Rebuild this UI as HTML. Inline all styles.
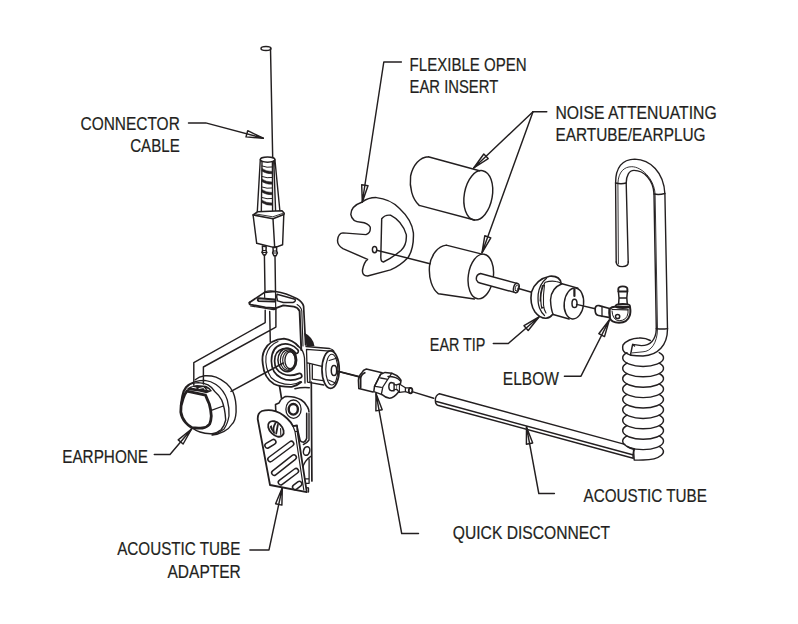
<!DOCTYPE html>
<html><head><meta charset="utf-8"><style>
html,body{margin:0;padding:0;background:#fff;width:798px;height:624px;overflow:hidden}
svg{display:block}
text{font-family:"Liberation Sans",sans-serif;font-size:17.7px;fill:#231f20;stroke:#231f20;stroke-width:0.2}
.s{fill:none;stroke:#231f20;stroke-width:1.45;stroke-linejoin:round;stroke-linecap:round}
.t{fill:none;stroke:#231f20;stroke-width:2.4;stroke-linejoin:round;stroke-linecap:round}
.w{fill:#fff;stroke:#231f20;stroke-width:1.45;stroke-linejoin:round;stroke-linecap:round}
</style></head><body>
<svg width="798" height="624" viewBox="0 0 798 624">
<text x="80.5" y="130.3" textLength="99.3" lengthAdjust="spacingAndGlyphs" text-anchor="start">CONNECTOR</text>
<text x="130.2" y="152.4" textLength="49.6" lengthAdjust="spacingAndGlyphs" text-anchor="start">CABLE</text>
<text x="409.6" y="70.7" textLength="117.1" lengthAdjust="spacingAndGlyphs" text-anchor="start">FLEXIBLE OPEN</text>
<text x="409.6" y="93.0" textLength="88.6" lengthAdjust="spacingAndGlyphs" text-anchor="start">EAR INSERT</text>
<text x="555.5" y="119.3" textLength="161.2" lengthAdjust="spacingAndGlyphs" text-anchor="start">NOISE ATTENUATING</text>
<text x="555.5" y="141.4" textLength="150.0" lengthAdjust="spacingAndGlyphs" text-anchor="start">EARTUBE/EARPLUG</text>
<text x="429.8" y="350.7" textLength="55.6" lengthAdjust="spacingAndGlyphs" text-anchor="start">EAR TIP</text>
<text x="502.8" y="384.8" textLength="56.1" lengthAdjust="spacingAndGlyphs" text-anchor="start">ELBOW</text>
<text x="62.2" y="462.9" textLength="85.9" lengthAdjust="spacingAndGlyphs" text-anchor="start">EARPHONE</text>
<text x="117.2" y="555.3" textLength="123.2" lengthAdjust="spacingAndGlyphs" text-anchor="start">ACOUSTIC TUBE</text>
<text x="167.5" y="577.8" textLength="73.3" lengthAdjust="spacingAndGlyphs" text-anchor="start">ADAPTER</text>
<text x="452.8" y="538.6" textLength="157.2" lengthAdjust="spacingAndGlyphs" text-anchor="start">QUICK DISCONNECT</text>
<text x="583.6" y="501.7" textLength="123.3" lengthAdjust="spacingAndGlyphs" text-anchor="start">ACOUSTIC TUBE</text>
<path d="M188.5,122.9 L205.7,122.9 L263.3,138.2" class="s"/>
<path d="M246.0,136.9 L263.3,138.2 L247.7,130.7 Z" class="s"/>
<path d="M255.5,137.6 L263.3,138.2 L256.3,134.8 Z" fill="#231f20"/>
<path d="M401.4,62.0 L383.8,62.0 L362.3,202.0" class="s"/>
<path d="M361.7,184.7 L362.3,202.0 L368.0,185.7 Z" class="s"/>
<path d="M362.0,194.2 L362.3,202.0 L364.9,194.7 Z" fill="#231f20"/>
<path d="M546.8,111.7 L533,111.7" class="s"/>
<path d="M533.0,111.7 L473.7,168.0" class="s"/>
<path d="M483.8,154.0 L473.7,168.0 L488.2,158.6 Z" class="s"/>
<path d="M478.3,161.7 L473.7,168.0 L480.2,163.8 Z" fill="#231f20"/>
<path d="M533.0,111.7 L482.0,252.8" class="s"/>
<path d="M484.8,235.7 L482.0,252.8 L490.8,237.9 Z" class="s"/>
<path d="M483.2,245.1 L482.0,252.8 L486.0,246.1 Z" fill="#231f20"/>
<path d="M493.3,343.5 L508.3,343.5 L539.0,317.0" class="s"/>
<path d="M528.2,330.5 L539.0,317.0 L524.0,325.7 Z" class="s"/>
<path d="M534.1,323.1 L539.0,317.0 L532.3,320.9 Z" fill="#231f20"/>
<path d="M564.4,376.2 L581.0,376.2 L609.3,320.0" class="s"/>
<path d="M604.5,336.6 L609.3,320.0 L598.8,333.7 Z" class="s"/>
<path d="M607.1,327.5 L609.3,320.0 L604.6,326.2 Z" fill="#231f20"/>
<path d="M154.3,454.5 L170.0,454.5 L191.6,429.0" class="s"/>
<path d="M183.1,444.0 L191.6,429.0 L178.2,439.9 Z" class="s"/>
<path d="M187.8,435.8 L191.6,429.0 L185.6,433.9 Z" fill="#231f20"/>
<path d="M249.9,549.9 L269.0,549.9 L282.3,487.8" class="s"/>
<path d="M281.9,505.1 L282.3,487.8 L275.6,503.8 Z" class="s"/>
<path d="M282.1,495.6 L282.3,487.8 L279.3,495.0 Z" fill="#231f20"/>
<path d="M418.5,533.5 L401.7,533.5 L376.0,393.6" class="s"/>
<path d="M382.2,409.7 L376.0,393.6 L375.9,410.9 Z" class="s"/>
<path d="M378.8,400.9 L376.0,393.6 L376.0,401.4 Z" fill="#231f20"/>
<path d="M554.4,493.5 L538.8,493.5 L526.5,426.9" class="s"/>
<path d="M532.7,443.0 L526.5,426.9 L526.4,444.2 Z" class="s"/>
<path d="M529.3,434.2 L526.5,426.9 L526.5,434.7 Z" fill="#231f20"/>

<!-- ===== connector cable ===== -->
<ellipse cx="266" cy="48.5" rx="5" ry="2" class="s"/>
<path d="M270.5,48.5 L272.7,157.5" class="s"/>
<ellipse cx="267.6" cy="159.6" rx="7.3" ry="2.6" class="s"/>
<path d="M260.3,159.6 L257.2,213.5 M262,161.5 L261.3,213.5 M274.9,159.6 L280.1,213 M272.4,161.8 L272.6,214 M273.8,161.5 L275.7,214" class="s" style="stroke-width:1.4"/>
<path d="M262,168.5 Q266,171.5 272.5,171.5 L272.5,173.8 Q266,174 261.9,171 Z M261.9,179 Q266,182 272.5,182 L272.5,184.3 Q266,184.5 261.8,181.5 Z M261.8,189.5 Q266,192.5 272.5,192.5 L272.5,194.8 Q266,195 261.7,192 Z M261.7,200 Q266,203 272.5,203 L272.5,205.3 Q266,205.5 261.6,202.5 Z" fill="#231f20" stroke="#231f20" stroke-width="0.5"/>
<path d="M262,166 Q267,168 272.4,167 M261.9,176.5 Q267,178.5 272.5,177.5 M261.8,187 Q267,189 272.5,188 M261.7,197.5 Q267,199.5 272.5,198.5" class="s" style="stroke-width:1"/>
<path d="M253.1,215 L257.5,211.8 L282,210.8 L284.2,213.2 L283.8,214.5 L273,218.7 Z" class="w" style="stroke-width:1.6"/>
<path d="M256,214 L272.8,216.8 L282.5,213.5" class="s" style="stroke-width:0.9"/>
<path d="M253.1,215 L256.7,243.3 L274.7,247.6 L282.6,244.7 L283.8,214.5 M273,218.7 L274.7,247.6" class="s"/>
<path d="M262.4,246 L266.2,246.8 L266,250.5 L266.8,252.5 L265.4,255 L263.5,255 L262,252.3 L262.6,250.5 Z" class="s" style="stroke-width:1.5"/>
<path d="M262.6,250.5 L266,250.5 M262.2,252.4 L266.6,252.5" class="s" style="stroke-width:1.2"/>
<path d="M273,247.2 L276.6,246.8 L276.6,251 L277.4,253 L276,255.8 L274,255.8 L272.6,253 L273.2,251 Z" class="s" style="stroke-width:1.5"/>
<path d="M273.2,251 L276.6,251 M272.8,253 L277.2,253" class="s" style="stroke-width:1.2"/>
<path d="M264.4,255 L265,291.8 M275,255.8 L275.5,291.8" class="s"/>

<!-- ===== bracket flange ===== -->
<path d="M249.5,302.5 L264.5,292.4 L275.5,291.5 Q286,293 297.1,298.8 Q302.5,302 303.6,306.2 L305.6,345" class="s" style="stroke-width:1.7"/>
<path d="M249.5,302.5 Q249,304.2 250.8,304.6 L265.4,307.4 L275.9,308.2 L283.3,305.4 L293.9,306.6 Q298,307.5 299.6,311 L301.3,350" class="s" style="stroke-width:1.9"/>
<path d="M264.5,292.4 L264.7,297.5 M275.5,291.5 L275.7,308 M264.5,292 Q270,289.8 275.5,291.5" class="s" style="stroke-width:1.2"/>
<path d="M250.5,306 L273.5,309.6 L276.5,309.2 M297.1,304.5 Q301.2,307 301.8,311 L303,346" class="s" style="stroke-width:1.1"/>
<path d="M258.6,298.2 L274.8,299.5 Q276.3,300.4 274.8,301.6 L258.6,301.1 Q256.8,299.7 258.6,298.2 Z" class="s" style="stroke-width:1.9"/>
<path d="M277,294.3 L295,299.2 Q296.2,301.6 293,302.5 L283.3,302.5 L277.6,300.9 Q276,297 277,294.3 Z" class="s" style="stroke-width:1.5"/>
<path d="M265.2,310.3 L265.2,322.6 L193.8,362.7 L193.8,385 M275.9,310.3 L275.9,327.1 L203.4,367 L203.4,384 M269.7,311.4 L270.3,342" class="s"/>
<!-- ===== ring adapter ===== -->
<path d="M231,391.4 L283.3,363" class="s"/>
<path d="M298.4,346.4 Q293,340 284,338.7 Q270,339.5 264.5,350 Q261.5,356 262.8,364 Q264,378 274,384 Q280,387 291.7,386.8 Q297.5,385.5 301.3,382" class="s" style="stroke-width:1.8"/>
<path d="M278,341.5 Q268.5,345 266,356 Q264.8,368 271,377.5 Q278,384.5 291,384.5 Q297,384 300.5,381.5" class="s" style="stroke-width:1.1"/>
<path d="M297.5,349.5 C290,340.5 271.5,341 271.4,361 C271.5,378 288,383.5 300.3,378 A2.3 2.3 0 0 0 298.5,373.6 C288,378 274.6,374 274.6,361 C274.6,347 289,345 296.2,353.6 A2.3 2.3 0 0 0 297.5,349.5 Z" class="s" style="stroke-width:1.7"/>
<ellipse cx="287.3" cy="360" rx="9.4" ry="11.7" class="s" style="stroke-width:1.5"/>
<ellipse cx="288.2" cy="360.2" rx="7.9" ry="10.3" class="s" style="stroke-width:1.1"/>
<ellipse cx="289" cy="360.3" rx="6.3" ry="9.2" class="s" style="stroke-width:1.1"/>
<ellipse cx="290.1" cy="360.3" rx="5.2" ry="8.4" class="s" style="stroke-width:1.3"/>
<path d="M298.4,346.4 Q303.5,350 304.5,358 L305,383" class="s" style="stroke-width:1.3"/>
<!-- hex connector -->
<path d="M304,332.5 Q313,337 314.5,346 L306.5,346.8 Q305.8,339.5 304,332.5 Z" fill="#231f20"/>
<path d="M306,346.5 L329.6,348.5 Q333,349.5 334,351.3 M306.5,349.4 L333.5,351.3 M306.5,349.4 L307.5,382.1 L323.8,385 M307.5,362.9 L322.9,366.7 M312.3,379.2 L322.9,380.7 M312.3,364.8 L312.3,379.2 M309.5,364 L310,382" class="s" style="stroke-width:1.3"/>
<ellipse cx="330.6" cy="369.6" rx="8.65" ry="18.75" class="w" style="stroke-width:1.7"/>
<ellipse cx="331.8" cy="369.6" rx="6" ry="15.4" class="s" style="stroke-width:1.1"/>
<path d="M329.1,360.5 L337.3,358 M328.5,380 L336.5,383.5" class="s" style="stroke-width:1.1"/>
<ellipse cx="334" cy="370.6" rx="2.7" ry="5" class="s" style="stroke-width:1.5"/>
<path d="M336.6,371 L359.5,377" class="s"/>

<!-- ===== earphone ===== -->
<path d="M195.2,379.7 Q199,376.5 204.8,375.8 Q211,375.5 216,377.1 Q228,382 233,392 Q236.5,400 236.1,412 Q235.5,421 232.1,424 Q229,429 224.1,431.3 Q218,434.5 212,435" class="s" style="stroke-width:1.4"/>
<path d="M185.6,387.4 Q189.5,383 195.2,381.6 Q200,380.3 204.8,380.3 Q211,381 216,384.5 Q224,390 227.3,400 Q229.5,408 229,416 Q227.5,424 224.1,428.9 Q219,433 212.9,434.5" class="s" style="stroke-width:1.3"/>
<path d="M188.8,384.8 Q193,382.6 198.4,382.6 Q204,383 208,384.8 Q212,387 214.5,391.2 Q219,395 221.7,400 Q225,408 225.7,420 Q224.5,426 221,429.7 Q217,433 212.1,433.7 Q205.5,434 200,432 Q195.5,430.5 192,427.7" class="s" style="stroke-width:1.4"/>
<path d="M211.3,410.4 L223.3,406" class="s" style="stroke-width:1.3"/>
<path d="M186.9,391.2 L205.5,395.1 Q207.5,400 209.3,404 Q210.8,409 211.3,416 Q211,421 209.7,424 Q207,427.5 202.5,428 Q197,428.5 192,427.7 Q188,425.5 185.6,422.5 Q181.5,417.5 180.8,412 Q180.5,405 183,398.9 Q184.5,394 186.9,391.2 Z" class="t" style="stroke-width:2.8"/>
<path d="M183.7,391.2 Q185.5,387 188.8,384.8 M181.1,404 Q182,396 183.7,391.2" class="s" style="stroke-width:2.2"/>
<path d="M186.3,389.5 Q190,385.5 197,385 L206,385.8 Q210,387.5 212,391 L206.5,393.2 L199,391.5 L191,390.5 Z" fill="#231f20"/>
<path d="M192,387.2 L196,388 M199,388.5 L203.5,387.5 L205,389.5 M207,389 L209,390" class="s" style="stroke:#fff;stroke-width:1"/>
<!-- ===== clip body ===== -->
<path d="M279.5,385.8 L281.5,398.3 M311.3,382 L311.9,481" class="s" style="stroke-width:1.7"/>
<path d="M294.9,388.7 Q302,387 309.3,387.7" class="s"/>
<path d="M275.8,411.5 L275.5,404.5 L279,403 Q281,398.5 285,396.6 Q294,396 301,399.8 Q305.5,402.5 307.5,407 Q309,409.5 309,412" class="s" style="stroke-width:1.6"/>
<ellipse cx="293.5" cy="409.2" rx="7.6" ry="9.2" class="s" style="stroke-width:1.3"/>
<ellipse cx="293.3" cy="409.3" rx="4.6" ry="5.3" class="s" style="stroke-width:2.4"/>
<path d="M306.7,413.4 L306.7,438.3 Q305.5,442 303.4,442.3 Q300.8,442 300.2,440.7 L297,427" class="s" style="stroke-width:1.6"/>
<path d="M309,413.4 L309,440 Q307,443 303.4,444.5" class="s" style="stroke-width:1.4"/>
<ellipse cx="306.6" cy="451" rx="3.1" ry="4.4" transform="rotate(15 306.6 451)" class="s" style="stroke-width:1.5"/>
<path d="M310.8,456.4 Q305,460 302.5,468 Q301.5,476 304,481 M309.1,459 L309.1,480 M304.6,478.8 L309.1,478.8 L309.1,483.3 L304.8,483.3 M305.7,487.7 L308.5,488 L308.5,492" class="s" style="stroke-width:1.3"/>
<!-- clip plate -->
<path d="M257.7,419 Q257.5,413 262,411 Q266,409.8 272,410.3 Q280,411.5 287.2,418.5 Q291,422 293,426.2 L297,425.5 L297.5,431.5 L306.8,492.2 L270,485 Z" class="w" style="stroke-width:1.8"/>
<path d="M293,426.2 L295,431.5 L303.8,490 M295,431.5 L297.5,431.5" class="s" style="stroke-width:1.2"/>
<ellipse cx="275.9" cy="428.9" rx="9.3" ry="6" transform="rotate(45 275.9 428.9)" class="s" style="stroke-width:1.8"/>
<path d="M275.4,423.2 Q272.3,428 274,432.5 M277.8,425 L276.2,433.5" class="s" style="stroke-width:1.8"/>
<path d="M280.6,428.5 L280.8,435" class="s" style="stroke-width:1.1"/>
<path d="M269.8,426.5 Q271,431.5 276,434.8 L274,432 Q272.5,429.5 271.5,425 Z" fill="#231f20"/>
<g class="s" style="stroke-width:1.5">
<rect x="-6" y="-2.5" width="12" height="5" rx="2.5" transform="translate(270.4 443.8) rotate(-31)"/>
<rect x="-15.5" y="-2.5" width="31" height="5" rx="2.5" transform="translate(280.8 451.5) rotate(-36.6)"/>
<rect x="-15" y="-2.5" width="30" height="5" rx="2.5" transform="translate(284 465.1) rotate(-38.3)"/>
<rect x="-12" y="-2.5" width="24" height="5" rx="2.5" transform="translate(288.4 476.7) rotate(-36.9)"/>
<rect x="-5.2" y="-2.5" width="10.4" height="5" rx="2.5" transform="translate(297.2 485.5) rotate(-38)"/>
</g>

<!-- ===== ear insert ===== -->
<path d="M362.3,202 Q368,197.5 376.4,197.6 Q390,199 399.3,208.2 Q412,220 413.4,232.9 Q414,248 408.1,257.5 Q400,266 390.5,269.9 L367.6,276 Q362,276 362.5,270 Q364,262 367.6,259.3 L342.9,248.7 Q337,245 337.6,239.9 Q338.5,233 342.9,232.9 L366,234.6 Q371,233 370.2,227 Q368,223 361,222.3 Q352,222 350.8,214.4 Q351,206 362.3,202 Z" class="s"/>
<path d="M381.7,218.8 Q385,214.5 390.5,215.2 Q402,221 406.3,234.6 Q407,245 401,250.5 Q392,258 383.4,262 Q381,262 380.8,257.5 Z" class="s"/>
<ellipse cx="374.6" cy="249.6" rx="2.2" ry="3.2" class="s"/>
<path d="M376.6,250.2 L430,263.7" class="s"/>

<!-- ===== cylinders ===== -->
<path d="M428.2,156.7 L479.5,170.8 M419.2,205.4 L474.4,220 M428.2,156.7 C420,157 413,165 410.6,176 C409.3,187 412,199 419.2,205.4" class="s"/>
<ellipse cx="478.3" cy="195.3" rx="14" ry="25" transform="rotate(10 478.3 195.3)" class="s"/>
<path d="M446.2,245.1 L482,254.1 M438.5,293.8 L474.4,299 M446.2,245.1 C438,246 431,255 429.5,266 C428.5,278 432,289 438.5,293.8" class="s"/>
<ellipse cx="480.8" cy="276.5" rx="12.5" ry="22.5" transform="rotate(8 480.8 276.5)" class="s"/>
<path d="M517,283.4 L480.5,273.5 Q475.5,275 476.5,280 Q477.5,282.5 480,283 L515.4,292.6 Z" class="w"/>
<ellipse cx="516.3" cy="288" rx="2.7" ry="4.8" transform="rotate(15 516.3 288)" class="w"/>
<ellipse cx="516.8" cy="288" rx="1.5" ry="3.2" transform="rotate(15 516.8 288)" class="s" style="stroke-width:0.9"/>

<!-- ===== ear tip ===== -->
<path d="M518.5,288.5 L530.7,292" class="s"/>
<path d="M561.2,283.5 Q560,275.5 549.7,276.2 Q536,279 531.5,292 Q529.5,304 535,312 Q540,318.5 546,318.3 Q550,318 552.5,314.5" class="s" style="stroke-width:1.6"/>
<path d="M546.5,278.2 Q539.5,284 538.2,294 Q537.5,303 539.5,308 Q541.5,313 544.5,315.5" class="s" style="stroke-width:1.3"/>
<path d="M545.3,282.3 Q551,280.5 556,281.5 Q559.5,282 561.2,283.5" class="s" style="stroke-width:1.2"/>
<path d="M544.8,282.8 Q541,290 540.8,298 Q540.8,305 542,308.5 M542.5,285.5 Q540,293 540.2,301" class="s" style="stroke-width:1.2"/>
<path d="M544.5,285 Q543,295 543.5,305 Q544,310 546,313 M544,308 L541.5,307" class="s" style="stroke-width:1.1"/>
<path d="M562,283.7 Q551,288 550.5,300 Q551,310 553.2,314.5" class="s"/>
<path d="M562,283.7 L577.9,288.1 M553.2,314.5 L569.1,319" class="s"/>
<ellipse cx="573.9" cy="303.5" rx="9.7" ry="15.5" transform="rotate(6 573.9 303.5)" class="w"/>
<path d="M574.4,289.5 L574.4,296" class="s" style="stroke-width:2.2"/>
<ellipse cx="574.5" cy="303.4" rx="2.5" ry="4.1" class="s" style="stroke-width:1.5"/>
<path d="M576.6,304.4 L595.2,308.8" class="s"/>

<!-- ===== elbow ===== -->
<path d="M595.2,308 Q596,305 599,305.6 L609.5,308.5 L610,317.7 L598.5,315.5 Q595.5,315 595.2,311 Z" class="s" style="stroke-width:1.7"/>
<path d="M602,306.5 L602,316.5" class="s" style="stroke-width:1.3"/>
<path d="M618.3,289.5 Q618,286.4 622.8,286.4 Q627.7,286.4 627.4,289.5 L627.4,291.5 L618.4,291.5 Z" class="s" style="stroke-width:1.9"/>
<path d="M618.4,291.5 L619,298 L626.8,298 L627.4,291.5 M619,298 L618.6,304.5 M626.8,298 L627.3,304.5" class="s" style="stroke-width:1.5"/>
<path d="M615.6,306 Q615.6,304 622.8,304 Q630,304 630,306 Q630,308 622.8,308 Q615.6,308 615.6,306 Z" class="s" style="stroke-width:1.8"/>
<path d="M609.5,309 Q611.5,306.8 616,306.5 L630,307 Q631,313 629.5,316 Q627.5,322.5 619,322.8 Q611.5,322.5 609.8,318 Q608.8,313 609.5,309 Z" class="s" style="stroke-width:2"/>
<path d="M612,311 Q612.5,320 619,320.8 Q627,320.5 628,313 L628,309.5" class="s" style="stroke-width:1"/>
<path d="M612,309.5 L628,309.8" class="s" style="stroke-width:1.2"/>
<circle cx="617.6" cy="316.5" r="2.1" class="s" style="stroke-width:1.5"/>
<!-- ===== J tube ===== -->
<path d="M616.2,262 L615.6,183 C615.5,168 622,159.1 634.8,159.1 C650,159.5 664,172 664.9,194 L667.5,329 C667.5,345 658,355.5 643,356 Q636,356 631,355.3" class="s" style="stroke-width:1.4"/>
<path d="M628.2,262 L626.2,183 C626.2,176 629,170.4 634,170.4 C644,170.4 653.5,180 654,194 L656.3,329 C656,340 650,345.6 641.4,345.6 L632.6,344.4" class="s" style="stroke-width:1.4"/>
<path d="M616.2,262 Q616.4,266.5 622.3,266.6 Q628.6,266.5 628.2,262 M615.6,183 Q621,184.5 626.2,183 M654,194 Q659,195 664.9,193.5 M656.3,328.6 Q662,329.6 667.5,328.6" class="s"/>
<path d="M618.4,264 L617.9,183 C618.5,172 624,166.7 631.8,166.7 C641,166.7 654,178 655.1,194 L657.5,329 C657.3,343 651,351.5 643,351.8 L632.2,352.9" class="s" style="stroke-width:0.9"/>
<path d="M632.6,344.4 L630.6,354.5 M632.6,344.4 L634.5,346" class="s"/>
<path d="M650.3,340.5 Q645,337.5 639,338 Q628,338.5 623,345 Q621.5,350 625.4,352.9 L631,355.3" class="s"/>
<path d="M627.0,352.7 A20.4 8.5 0 1 0 659.2,352.7" class="s"/>
<path d="M627.0,363.1 A20.4 8.5 0 1 0 659.2,363.1" class="s"/>
<path d="M627.0,373.5 A20.4 8.5 0 1 0 659.2,373.5" class="s"/>
<path d="M627.0,383.9 A20.4 8.5 0 1 0 659.2,383.9" class="s"/>
<path d="M627.0,394.3 A20.4 8.5 0 1 0 659.2,394.3" class="s"/>
<path d="M627.0,404.7 A20.4 8.5 0 1 0 659.2,404.7" class="s"/>
<path d="M627.0,415.1 A20.4 8.5 0 1 0 659.2,415.1" class="s"/>
<path d="M627.0,425.5 A20.4 8.5 0 1 0 659.2,425.5" class="s"/>
<path d="M627.0,435.9 A20.4 8.5 0 1 0 659.2,435.9" class="s"/>
<path d="M633.5,449.2 L634.2,460.0 Q638,460.3 643.1,460.0 A20.4 8.5 0 0 0 659.2,446.3" class="s"/>
<path d="M627.0,446.3 A20.4 8.5 0 0 0 633.5,449.2" class="s"/>
<!-- straight acoustic tube -->
<path d="M439.4,393.7 L624.9,444.4 M437.5,405.2 L633.2,458.2 M439.4,393.7 Q435.3,395.5 435.3,400.5 Q435.5,404.5 437.5,405.2 M435.6,401.3 L632.6,454.7 M634.5,449.2 Q632.5,453 633.2,458.2" class="s" style="stroke-width:1.4"/>

<!-- ===== quick disconnect ===== -->
<path d="M340,371.8 L360,376.8" class="s"/>
<path d="M366.3,369 L382.1,372.8 M366.3,369 Q363,370 361.8,372.8 Q358.5,376 358.4,380.3 L358.8,388.6 L373,392" class="s" style="stroke-width:1.5"/>
<path d="M364.8,372.8 Q360.6,375 360.6,378.8 L360.6,387.8" class="s" style="stroke-width:1.8"/>
<path d="M380.6,374.3 L385.1,372.4 L391.8,373.2 Q397,375 399.4,378 Q401.5,380 400.9,381.5 L398.5,392 Q394,398 389.6,398.3 Q386,398 382.1,394.6 L373.8,391.6 L374.5,386.3 Z" class="w" style="stroke-width:1.5"/>
<path d="M380.6,374.3 L374.5,386.3 M380.6,378 L386.6,379.2 M375.3,386.3 L381.3,387.4 M391.8,373.2 L382.8,387 L381.3,394.6" class="s" style="stroke-width:1.3"/>
<path d="M388,376.5 Q397,376.5 400.5,381" class="s"/>
<path d="M391,382.5 L394.1,383.2 L394.1,390.8 L391,390.7 Q388.8,390 388.8,386.6 Q389,382.8 391,382.5 Z" class="w" style="stroke-width:1.4"/>
<path d="M394.1,384.6 L397.1,385 L397.1,389.6 L394.1,389.4" class="s" style="stroke-width:1.3"/>
<path d="M397.1,384.6 L399.4,384 L405.4,387.8 L405.4,391.6 L399.4,392.3 L397.1,389.6" class="w" style="stroke-width:1.3"/>
<path d="M399.4,384 L399.4,392.3" class="s" style="stroke-width:1.1"/>
<path d="M405.4,387.8 L410.5,387.9 M405.4,391.6 L410.5,393.3" class="s" style="stroke-width:1.3"/>
<ellipse cx="410.6" cy="390.6" rx="1.8" ry="2.8" class="s" style="stroke-width:1.8"/>
<path d="M412.1,391.6 L433.7,398.2" class="s"/>

</svg></body></html>
